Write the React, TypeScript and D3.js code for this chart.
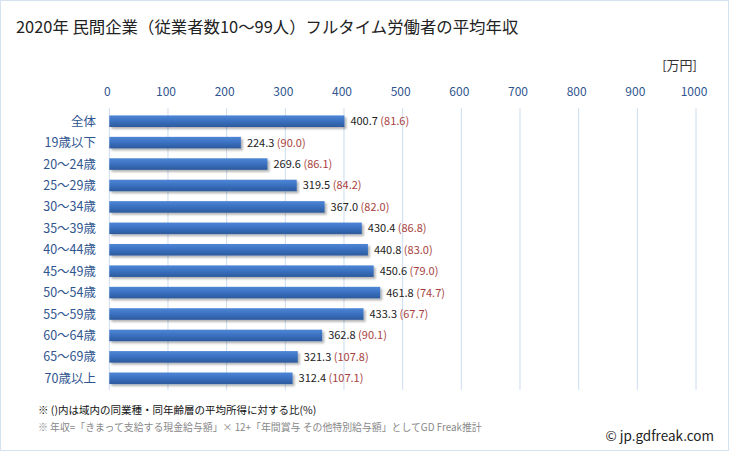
import React from "react";
import * as d3 from "d3";

const categories = ["全体", "19歳以下", "20～24歳", "25～29歳", "30～34歳", "35～39歳", "40～44歳", "45～49歳", "50～54歳", "55～59歳", "60～64歳", "65～69歳", "70歳以上"];
const incomes = [400.7, 224.3, 269.6, 319.5, 367.0, 430.4, 440.8, 450.6, 461.8, 433.3, 362.8, 321.3, 312.4];
const ratios = ["81.6", "90.0", "86.1", "84.2", "82.0", "86.8", "83.0", "79.0", "74.7", "67.7", "90.1", "107.8", "107.1"];
const xTicks = [0, 100, 200, 300, 400, 500, 600, 700, 800, 900, 1000];

const W = 729, H = 451;
const FONT = "'Noto Sans CJK JP', 'Noto Sans', sans-serif";

export default function App() {
  const x = d3.scaleLinear().domain([0, 1000]).range([109.3, 696]);
  const y = d3.scaleBand<string>().domain(categories).range([110.5, 389]).paddingInner(0.46).paddingOuter(0.23);
  const bw = y.bandwidth();
  return (
    <svg width={W} height={H} style={{ position: "absolute", left: 0, top: 0 }} fontFamily={FONT}>
      <defs>
        <linearGradient id="barg" x1="0" y1="0" x2="0" y2="1">
          <stop offset="0" stopColor="#4f86d6" />
          <stop offset="0.5" stopColor="#3a70c0" />
          <stop offset="1" stopColor="#2c5a9c" />
        </linearGradient>
        <filter id="sh" x="-5%" y="-30%" width="110%" height="180%">
          <feDropShadow dx="2" dy="2" stdDeviation="1.2" floodColor="#000" floodOpacity="0.3" />
        </filter>
      </defs>
      <rect x={0.5} y={0.5} width={W - 1} height={H - 1} fill="#fff" stroke="#d5e3f0" />
      <text x={16} y={33} fontSize={16.4} fill="#222">2020年 民間企業（従業者数10～99人）フルタイム労働者の平均年収</text>
      <text x={697} y={70} fontSize={13} fill="#333" textAnchor="end">[万円]</text>
      {xTicks.map((t) => (
        <g key={t}>
          <line x1={x(t)} x2={x(t)} y1={108} y2={390} stroke="#cddcee" strokeWidth={1} />
          <text x={x(t) - 2} y={96} fontSize={12} fill="#2f5590" textAnchor="middle">{t}</text>
        </g>
      ))}
      {categories.map((c, i) => {
        const yc = (y(c) as number) + bw / 2;
        return (
          <g key={c}>
            <text x={96} y={yc + 4.5} fontSize={12.5} fill="#2f5590" textAnchor="end">{c}</text>
            <rect x={x(0)} y={y(c)} width={x(incomes[i]) - x(0)} height={bw} fill="url(#barg)" filter="url(#sh)" />
            <text x={x(incomes[i]) + 6} y={yc + 4} fontSize={11} fill="#222">
              {incomes[i].toFixed(1)}
              <tspan fill="#a8423e"> ({ratios[i]})</tspan>
            </text>
          </g>
        );
      })}
      <text x={38} y={414} fontSize={10.5} fill="#111">※ ()内は域内の同業種・同年齢層の平均所得に対する比(%)</text>
      <text x={38} y={431} fontSize={9.9} fill="#888">※ 年収=「きまって支給する現金給与額」× 12+「年間賞与 その他特別給与額」としてGD Freak推計</text>
      <text x={714} y={441} fontSize={13.5} fill="#222" textAnchor="end">© jp.gdfreak.com</text>
    </svg>
  );
}
